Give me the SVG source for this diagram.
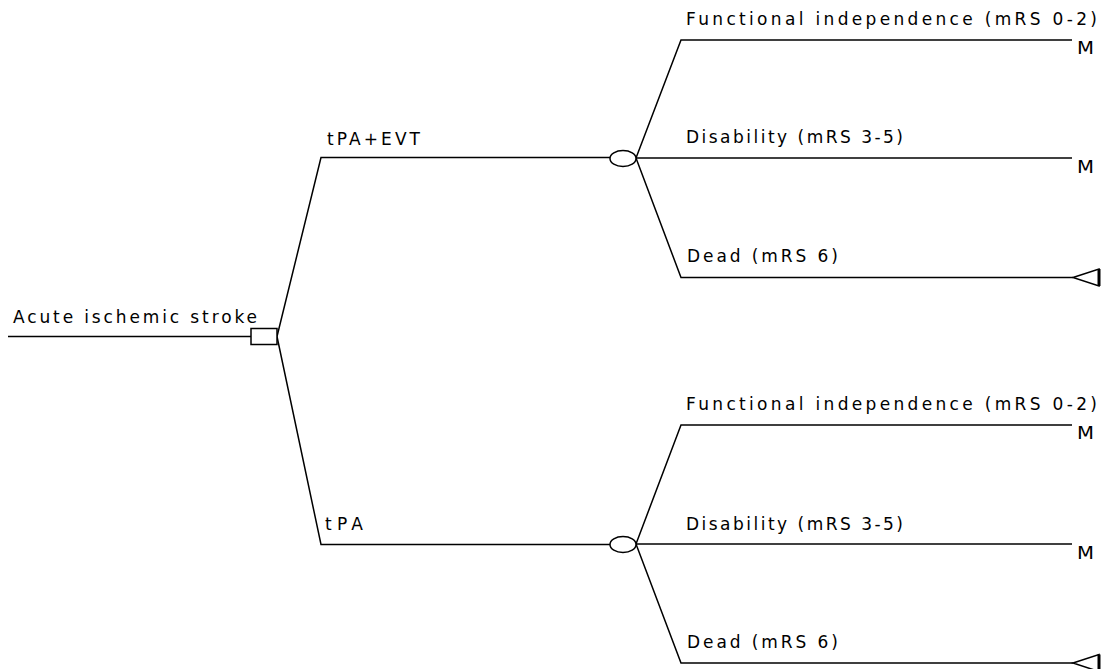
<svg xmlns="http://www.w3.org/2000/svg" width="1103" height="669" viewBox="0 0 1103 669">
<style>
.ln{fill:none;stroke:#000;stroke-width:1.5}
.nd{fill:#fff;stroke:#000;stroke-width:1.5}
text{font-family:"DejaVu Sans","Liberation Sans",sans-serif;font-size:17px;fill:#000}
</style>
<rect width="1103" height="669" fill="#fff"/>
<g id="connectors">
<path class="ln" d="M8,336.5 H251"/>
<path class="ln" d="M277,336.5 L321,157.5 H610"/>
<path class="ln" d="M277,336.5 L321,544.5 H610"/>
<path class="ln" d="M636,158 L681,40 H1072"/>
<path class="ln" d="M636,158 H1072"/>
<path class="ln" d="M636,158 L681,277.5 H1073"/>
<path class="ln" d="M636,544 L681,425 H1072"/>
<path class="ln" d="M636,544 H1072"/>
<path class="ln" d="M636,544 L681,663 H1073"/>
</g>
<g id="root">
<text x="13" y="323" textLength="244" lengthAdjust="spacing">Acute ischemic stroke</text>
<rect class="nd" x="251" y="328.5" width="26" height="16"/>
</g>
<g id="tpa-evt">
<text x="327" y="145" textLength="93" lengthAdjust="spacing">tPA+EVT</text>
<ellipse class="nd" cx="623" cy="158.5" rx="13" ry="8"/>
</g>
<g id="tpa">
<text x="325" y="530" textLength="38" lengthAdjust="spacing">tPA</text>
<ellipse class="nd" cx="623" cy="544.5" rx="13" ry="8"/>
</g>
<g id="out1-fi">
<text x="686" y="25" textLength="411" lengthAdjust="spacing">Functional independence (mRS 0-2)</text>
<text x="1077" y="54" textLength="17" lengthAdjust="spacingAndGlyphs">M</text>
</g>
<g id="out1-dis">
<text x="686" y="143" textLength="217" lengthAdjust="spacing">Disability (mRS 3-5)</text>
<text x="1077" y="173" textLength="17" lengthAdjust="spacingAndGlyphs">M</text>
</g>
<g id="out1-dead">
<text x="687" y="262" textLength="151" lengthAdjust="spacing">Dead (mRS 6)</text>
<path class="nd" d="M1073,277.5 L1099,269 V286 Z"/>
<path d="M1099,269 V286" stroke="#000" stroke-width="3"/>
</g>
<g id="out2-fi">
<text x="686" y="410" textLength="411" lengthAdjust="spacing">Functional independence (mRS 0-2)</text>
<text x="1077" y="439" textLength="17" lengthAdjust="spacingAndGlyphs">M</text>
</g>
<g id="out2-dis">
<text x="686" y="530" textLength="217" lengthAdjust="spacing">Disability (mRS 3-5)</text>
<text x="1077" y="559" textLength="17" lengthAdjust="spacingAndGlyphs">M</text>
</g>
<g id="out2-dead">
<text x="687" y="648" textLength="151" lengthAdjust="spacing">Dead (mRS 6)</text>
<path class="nd" d="M1073,663 L1099,654.5 V671.5 Z"/>
<path d="M1099,654.5 V671.5" stroke="#000" stroke-width="3"/>
</g>
</svg>
